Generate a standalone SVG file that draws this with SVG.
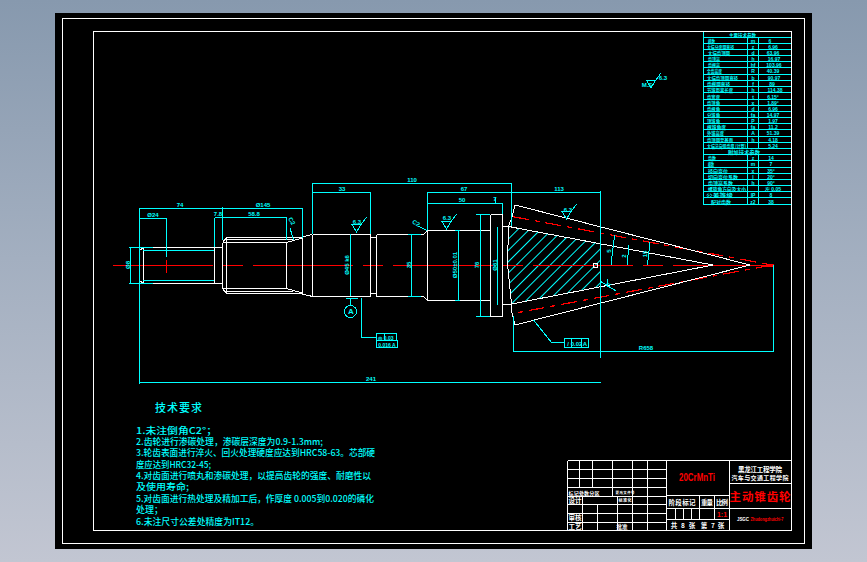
<svg xmlns="http://www.w3.org/2000/svg" width="867" height="562" viewBox="0 0 867 562">
<style>
line,path,rect,circle,polyline,polygon{shape-rendering:crispEdges}
.w{stroke:#fff;stroke-width:1;fill:none}
.wb{stroke:#fff;stroke-width:1.2;fill:none}
.c{stroke:#00ffff;stroke-width:1;fill:none}
.r{stroke:#ff0000;stroke-width:1;fill:none}
.rd{stroke:#ff0000;stroke-width:1.2;fill:none;stroke-dasharray:16 6 5 6}
text{font-family:"Noto Sans CJK SC","Liberation Sans",sans-serif}
.t{fill:#00ffff;font-size:9px;font-weight:500}
.d{fill:#00ffff;font-size:6px;font-family:"Liberation Sans",sans-serif;text-anchor:middle;font-weight:bold}
.s{fill:#00ffff;font-size:5px;font-weight:bold}
.m{fill:#00ffff;font-size:5px;font-family:"Liberation Sans",sans-serif;text-anchor:middle;font-weight:bold}
.b{fill:#fff;font-size:6.500px;font-weight:bold;text-anchor:middle}
</style>
<defs>
<linearGradient id="bg" x1="0" y1="0" x2="0" y2="1">
<stop offset="0" stop-color="#8799ae"/>
<stop offset="0.46" stop-color="#a3afc0"/>
<stop offset="1" stop-color="#c2c6d2"/>
</linearGradient>
<pattern id="hatch" width="8" height="8" patternUnits="userSpaceOnUse" patternTransform="rotate(45)">
<line x1="0" y1="0" x2="0" y2="8" stroke="#00ffff" stroke-width="1.6"/>
</pattern>
<g id="rough"><path class="c" d="M-4.5-3.5H4.5L0 4ZM4.5-3.5L10-11"/></g>
</defs>
<rect width="867" height="562" fill="url(#bg)"/>
<rect x="55" y="13" width="757" height="536" fill="#000"/>
<g id="frame">
<rect class="wb" x="62.5" y="18.500" width="742" height="525"/>
<rect class="wb" x="93.5" y="31.5" width="698" height="499"/>
</g>
<g id="hatching">
<polygon points="508.5,226.5 600,243.5 600,287 511.5,304 507.5,264" fill="url(#hatch)"/>
</g>
<g id="centerline">
<line class="r" x1="113" y1="265.5" x2="773" y2="265.5" stroke-dasharray="100 10 20 10"/>
<path class="r" d="M166.5 260V273"/>
<path class="rd" d="M513 216.7L772 265L513 313.5"/>
<path d="M766 265h8" stroke="#ff0000" stroke-width="3"/>
</g>
<g id="shaft">
<path class="w" d="M139.5 247.5H222.5M139.5 283.5H222.5M143.5 247.5V283.5M139.5 250.5L143.5 247.5M139.5 280.5L143.5 283.5M214.5 247.5V283.5M222.5 247.5V283.5"/>
<path class="w" d="M226.5 247.5V293.5M226.5 237.5V247.5M222.5 242.5V288.5M222.5 242.5L226.5 237.5M222.5 288.5L226.5 293.5"/>
<path class="w" d="M226.5 237.5H300L312.5 234.5M226.5 293.5H300L312.5 296.5M226.5 239.5H293M226.5 291.5H293M222.5 242.5H286.5L302.5 238M222.5 288.5H286.5L302.5 293M286.5 242.5V288.5M302.5 237.5V293.5"/>
<path class="w" d="M312.5 234.5V296.5M312.5 234.5H370.5V296.5H312.5M370.5 237.5H376.5M370.5 293.5H376.5M376.5 234.5V296.5M376.5 234.5H423.5L427.5 230.5M376.5 296.5H423.5L427.5 300.5"/>
<path class="w" d="M427.5 230.5V300.5M427.5 230.5H490.5M427.5 300.5H490.5M490.5 214.5V316.5M490.5 214.5H502.5V316.5H490.5M502.5 226.5H511.5M502.5 304.5H511.5"/>
</g>
<g id="gear">
<path class="w" d="M515 205L750 265L515 325L512 313L511.5 304L507.5 264L508.5 226.5L512 217Z"/>
<path class="w" d="M508.5 226.5L713 265L511.5 304"/>
<rect class="w" x="593.5" y="263.5" width="4" height="4"/>
</g>
<g id="connectors">
<path class="c" d="M139.5 208V384M139.5 208.5H302.5M222.5 207V240M302.5 208V238"/>
<path class="c" d="M139.5 218.5H166.5V257M214.5 217.5V247M214.5 217.5H286.5V240"/>
<path class="c" d="M129 247.5H153M129 283.5H153M130.5 247.5V283.5"/>
<path class="c" d="M143 250.5H214M143 280.5H214"/>
<path class="c" d="M312.5 183V234M312.5 183.5H511.5V226M312.5 192.5H370.5V234M427.5 192.5H600.5M427.5 192V230M600.5 191V358"/>
<path class="c" d="M427.5 203.5H502.5V214M495.5 198V203"/>
<path class="c" d="M350.5 234V296M411.5 234V296M458.5 230.5V300.5M480.5 214.5V316.5M497.5 226.5V304.5M476 214.5H490M476 316.5H490M455 230.5H460M455 300.5H460M408 234.5H421M408 296.5H421"/>
<path class="c" d="M140 382.5H600.5"/>
<path class="c" d="M513.5 316V352M513.5 351.5H773.5V265"/>
<path class="c" d="M346 298.5H358M350.5 298.5V305"/>
<circle class="c" cx="350.5" cy="311.5" r="6"/>
<path class="c" d="M361.5 298V337.5H376"/>
<rect class="c" x="376.5" y="333.5" width="20" height="7"/>
<rect class="c" x="376.5" y="340.5" width="21" height="7"/>
<path class="c" d="M384.5 333.5V340.5"/>
<path class="c" d="M533.5 320L551.5 342.5H564.5"/>
<rect class="c" x="564.5" y="338.5" width="24" height="9"/>
<path class="c" d="M571.5 338.5V347.5M581.5 338.5V347.5"/>
<path class="c" d="M611 265L614.5 235.5M627.5 265L628.5 245.5M647.5 265L650 242.5M600 281L616 291M607 279V287"/>
<path class="c" d="M290 228L293.5 240M427 230.5L418 226"/>
<use href="#rough" x="356.5" y="228"/>
<use href="#rough" x="446.5" y="225"/>
<use href="#rough" x="566.5" y="215"/>
<use href="#rough" x="651" y="84"/>
</g>
<g id="dimension-labels">
<text class="d" x="180" y="207">74</text>
<text class="d" x="153" y="217">Ø24</text>
<text class="d" x="218" y="216">7.8</text>
<text class="d" x="254" y="216">58.8</text>
<text class="d" x="263" y="207">Ø145</text>
<text class="d" x="342" y="191">33</text>
<text class="d" x="412" y="182">110</text>
<text class="d" x="464" y="191">67</text>
<text class="d" x="462" y="202">50</text>
<text class="d" x="495" y="201">7</text>
<text class="d" x="559" y="191">113</text>
<text class="d" x="371" y="381">241</text>
<text class="d" x="646" y="350">R658</text>
<text class="d" transform="translate(130,265) rotate(-90)">Ø8</text>
<text class="d" transform="translate(349,265) rotate(-90)">Ø45 k6</text>
<text class="d" transform="translate(411,265) rotate(-90)">35</text>
<text class="d" transform="translate(457,265) rotate(-90)">Ø50±0.01</text>
<text class="d" transform="translate(479,265) rotate(-90)">76</text>
<text class="d" transform="translate(497,265) rotate(-90)">Ø61</text>
<text class="d" transform="translate(611,251) rotate(-90)">5</text>
<text class="d" transform="translate(626,256) rotate(-90)">2</text>
<text class="d" transform="translate(647,254) rotate(-90)">15</text>
<text class="d" transform="translate(611,284) rotate(-90)">7</text>
<text class="d" transform="translate(290,222) rotate(60)">C2</text>
<text class="d" transform="translate(415,225) rotate(30)">C2</text>
<text class="d" x="357" y="224">6.3</text>
<text class="d" x="447" y="220">6.3</text>
<text class="d" x="568" y="212">6.3</text>
<text class="d" x="663" y="80">6.3</text>
<text class="d" x="647" y="87">M.S</text>
<text class="d" x="351" y="314" style="font-size:8px">A</text>
<text class="m" x="386" y="339.5">◎ 0.03</text>
<text class="m" x="387" y="346.5">0.016 A</text>
<text class="d" x="568" y="345.5">/</text>
<text class="d" x="576.5" y="345.5">0.02</text>
<text class="d" x="585" y="345.5">A</text>
</g>
<g id="technical-notes">
<text class="t" x="155" y="412" style="font-size:11px" textLength="47">技术要求</text>
<text class="t" x="136" y="434" textLength="81" lengthAdjust="spacingAndGlyphs">1.未注倒角C2°；</text>
<text class="t" x="136" y="444.500" textLength="187" lengthAdjust="spacingAndGlyphs">2.齿轮进行渗碳处理，渗碳层深度为0.9-1.3mm;</text>
<text class="t" x="136" y="456" textLength="239" lengthAdjust="spacingAndGlyphs">3.轮齿表面进行淬火、回火处理硬度应达到HRC58-63。芯部硬</text>
<text class="t" x="136" y="468" textLength="75" lengthAdjust="spacingAndGlyphs">度应达到HRC32-45;</text>
<text class="t" x="136" y="479" textLength="235" lengthAdjust="spacingAndGlyphs">4.对齿面进行喷丸和渗碳处理，以提高齿轮的强度、耐磨性以</text>
<text class="t" x="136" y="490" textLength="53" lengthAdjust="spacingAndGlyphs">及使用寿命;</text>
<text class="t" x="136" y="502" textLength="238" lengthAdjust="spacingAndGlyphs">5.对齿面进行热处理及精加工后，作厚度 0.005到0.020的磷化</text>
<text class="t" x="136" y="513" textLength="27" lengthAdjust="spacingAndGlyphs">处理；</text>
<text class="t" x="136" y="525" textLength="123" lengthAdjust="spacingAndGlyphs">6.未注尺寸公差处精度为IT12。</text>
</g>
<g id="parameter-table">
<path class="c" d="M703.500 31.500V205M703.500 37.500H791M703.500 43.500H791M703.500 49.500H791M703.500 55.500H791M703.500 61.500H791M703.500 67.500H791M703.500 74.500H791M703.500 80.500H791M703.500 86.500H791M703.500 92.500H791M703.500 99.500H791M703.500 105.500H791M703.500 111.500H791M703.500 117.500H791M703.500 123.500H791M703.500 129.500H791M703.500 136.500H791M703.500 142.500H791M703.500 148.500H791M703.500 154.500H791M703.500 160.500H791M703.500 167.500H791M703.500 173.500H791M703.500 179.500H791M703.500 185.500H791M703.500 191.500H791M703.500 197.500H791M703.500 204.500H791"/>
<path class="c" d="M747.500 37.500V148.500M758.500 37.500V148.500M747.500 154.500V204.500M758.500 154.500V204.500"/>
<text class="s" x="729" y="36.500" textLength="27" lengthAdjust="spacingAndGlyphs">主要技术参数</text>
<text class="s" x="708" y="42.500" textLength="7" lengthAdjust="spacingAndGlyphs">模数</text>
<text class="s" x="707" y="48.500" textLength="27" lengthAdjust="spacingAndGlyphs">大端分度圆直径</text>
<text class="s" x="708" y="54.500" textLength="22" lengthAdjust="spacingAndGlyphs">大端齿顶圆</text>
<text class="s" x="708" y="60.500" textLength="12" lengthAdjust="spacingAndGlyphs">齿顶高</text>
<text class="s" x="708" y="66.500" textLength="12" lengthAdjust="spacingAndGlyphs">齿根高</text>
<text class="s" x="707" y="73" textLength="15" lengthAdjust="spacingAndGlyphs">全齿高度</text>
<text class="s" x="707" y="79.500" textLength="31" lengthAdjust="spacingAndGlyphs">大端齿顶圆直径</text>
<text class="s" x="707" y="85.500" textLength="23" lengthAdjust="spacingAndGlyphs">齿根圆直径</text>
<text class="s" x="707" y="91.500" textLength="26" lengthAdjust="spacingAndGlyphs">节锥距离长度</text>
<text class="s" x="707" y="98.500" textLength="13" lengthAdjust="spacingAndGlyphs">齿宽度</text>
<text class="s" x="707" y="104.500" textLength="13" lengthAdjust="spacingAndGlyphs">齿顶角</text>
<text class="s" x="707" y="110.500" textLength="13" lengthAdjust="spacingAndGlyphs">齿根角</text>
<text class="s" x="707" y="116.500" textLength="13" lengthAdjust="spacingAndGlyphs">分锥角</text>
<text class="s" x="707" y="122.500" textLength="13" lengthAdjust="spacingAndGlyphs">顶锥角</text>
<text class="s" x="707" y="128.500" textLength="19" lengthAdjust="spacingAndGlyphs">根锥角度</text>
<text class="s" x="707" y="135" textLength="17" lengthAdjust="spacingAndGlyphs">外锥高度</text>
<text class="s" x="707" y="141.500" textLength="26" lengthAdjust="spacingAndGlyphs">齿顶圆至基面</text>
<text class="s" x="707" y="147.500" textLength="39" lengthAdjust="spacingAndGlyphs">大端法向弧齿厚 (计算)</text>
<text class="s" x="728" y="153.500" textLength="32" lengthAdjust="spacingAndGlyphs">附加技术参数</text>
<text class="s" x="708" y="159.500" textLength="8" lengthAdjust="spacingAndGlyphs">齿数</text>
<text class="s" x="708" y="166" textLength="6" lengthAdjust="spacingAndGlyphs">模数</text>
<text class="s" x="708" y="172.500" textLength="20" lengthAdjust="spacingAndGlyphs">径向变位</text>
<text class="s" x="708" y="178.500" textLength="30" lengthAdjust="spacingAndGlyphs">切向变位系数</text>
<text class="s" x="708" y="184.500" textLength="25" lengthAdjust="spacingAndGlyphs">齿顶高系数</text>
<text class="s" x="708" y="190.500" textLength="38" lengthAdjust="spacingAndGlyphs">螺旋角方向及大小</text>
<text class="s" x="706" y="197" textLength="27" lengthAdjust="spacingAndGlyphs">公差等级</text>
<text class="s" x="711" y="203.500" textLength="20" lengthAdjust="spacingAndGlyphs">配对齿数</text>
<g>
<text class="m" x="753" y="42.500">m</text><text class="m" x="770" y="42.500">6</text>
<text class="m" x="753" y="48.500">z</text><text class="m" x="773" y="48.500">6.96</text>
<text class="m" x="753" y="54.500">d</text><text class="m" x="773" y="54.500">63.96</text>
<text class="m" x="753" y="60.500">h</text><text class="m" x="774" y="60.500">16.97</text>
<text class="m" x="753" y="66.500">hf</text><text class="m" x="774" y="66.500">103.96</text>
<text class="m" x="753" y="73">R</text><text class="m" x="773" y="73">40.39</text>
<text class="m" x="753" y="79.500">b</text><text class="m" x="774" y="79.500">90.97</text>
<text class="m" x="753" y="85.500">f</text><text class="m" x="772" y="85.500">89</text>
<text class="m" x="753" y="91.500">h</text><text class="m" x="775" y="91.500">114.38</text>
<text class="m" x="753" y="98.500">t</text><text class="m" x="773" y="98.500">6.15°</text>
<text class="m" x="753" y="104.500">x</text><text class="m" x="773" y="104.500">1.89°</text>
<text class="m" x="753" y="110.500">d</text><text class="m" x="773" y="110.500">6.96</text>
<text class="m" x="753" y="116.500">fa</text><text class="m" x="773" y="116.500">14.97</text>
<text class="m" x="753" y="122.500">P</text><text class="m" x="773" y="122.500">1.97</text>
<text class="m" x="753" y="128.500">fa</text><text class="m" x="773" y="128.500">11.2</text>
<text class="m" x="753" y="135">A</text><text class="m" x="773" y="135">51.39</text>
<text class="m" x="753" y="141.500">h</text><text class="m" x="773" y="141.500">4.18</text>
<text class="m" x="773" y="147.500">5.24</text>
<text class="m" x="753" y="159.500">z</text><text class="m" x="771" y="159.500">14</text>
<text class="m" x="753" y="166">m</text><text class="m" x="771" y="166">7</text>
<text class="m" x="753" y="172.500">x</text><text class="m" x="771" y="172.500">35°</text>
<text class="m" x="753" y="178.500">l</text><text class="m" x="771" y="178.500">20°</text>
<text class="m" x="753" y="184.500">h</text><text class="m" x="771" y="184.500">90°</text>
<text class="m" x="773" y="190.500">左 0.05</text>
<text class="m" x="753" y="197">IP</text><text class="m" x="771" y="197">8</text>
<text class="m" x="753" y="203.500">z2</text><text class="m" x="771" y="203.500">38</text>
</g>
</g>
<g id="title-block">
<path class="w" d="M567.500 460.500H791M567.500 460.500V530.500M666.500 460.500V530.500M729.500 460.500V530.500"/>
<path class="w" d="M567.500 469.500H666.500M567.500 478.500H666.500M567.500 487.500H666.500M567.500 496.500H666.500M567.500 504.500H666.500M567.500 513.500H666.500M567.500 522.500H666.500"/>
<path class="w" d="M579.500 460.500V487.500M592.500 460.500V487.500M612.500 460.500V487.500M632.500 460.500V530.500M647.500 460.500V530.500"/>
<path class="w" d="M582.500 496.500V530.500M597.500 504.500V530.500M617.500 496.500V530.500M612.500 487.500V496.500"/>
<path class="w" d="M666.500 495.500H729.500M666.500 508.500H729.500M666.500 519.500H729.500M729.500 483.500H791M729.500 508.500H791"/>
<path class="w" d="M699.500 495.500V519.500M714.500 495.500V519.500M675.500 508.500V519.500M683.500 508.500V519.500M691.500 508.500V519.500"/>
<text class="b" x="760" y="472" textLength="44">黑龙江工程学院</text>
<text class="b" x="760" y="480" style="font-size:6px" textLength="57">汽车与交通工程学院</text>
<text x="697" y="481" fill="#ff0000" font-size="10" font-weight="bold" text-anchor="middle" textLength="36" lengthAdjust="spacingAndGlyphs" style="font-family:'Liberation Sans',sans-serif">20CrMnTi</text>
<text x="760" y="501" fill="#ff0000" font-size="11.500" font-weight="bold" text-anchor="middle" textLength="61">主动锥齿轮</text>
<text class="b" x="682" y="505" textLength="27">阶段标记</text>
<text class="b" x="707" y="505" textLength="12">重量</text>
<text class="b" x="722" y="505" textLength="12">比例</text>
<text x="722" y="517" fill="#ff0000" font-size="7" font-weight="bold" text-anchor="middle" style="font-family:'Liberation Sans',sans-serif">1:1</text>
<text class="b" x="674" y="528">共</text><text class="b" x="683" y="528">8</text><text class="b" x="692" y="528">张</text>
<text class="b" x="704" y="528">第</text><text class="b" x="713" y="528">7</text><text class="b" x="721" y="528">张</text>
<text class="b" x="584" y="494.500" style="font-size:5px" textLength="31">标记处数分区</text>
<text class="b" x="625" y="494" style="font-size:3.500px" textLength="19">更改文件号</text>
<text class="b" x="575" y="503">设计</text>
<text class="b" x="625" y="502" style="font-size:4px" textLength="13">标准化</text>
<text class="b" x="575" y="520">审核</text>
<text class="b" x="575" y="529">工艺</text>
<text class="b" x="622" y="529" style="font-size:5.500px">批准</text>
<text x="743" y="521" fill="#fff" font-size="4.500" font-weight="bold" text-anchor="middle" style="font-family:'Liberation Sans',sans-serif" textLength="12">JSGC</text>
<text x="767" y="521" fill="#ff0000" font-size="4.500" font-weight="bold" text-anchor="middle" style="font-family:'Liberation Sans',sans-serif" textLength="33" lengthAdjust="spacingAndGlyphs">Zhudongzhuichi-7</text>
</g>
</svg>
